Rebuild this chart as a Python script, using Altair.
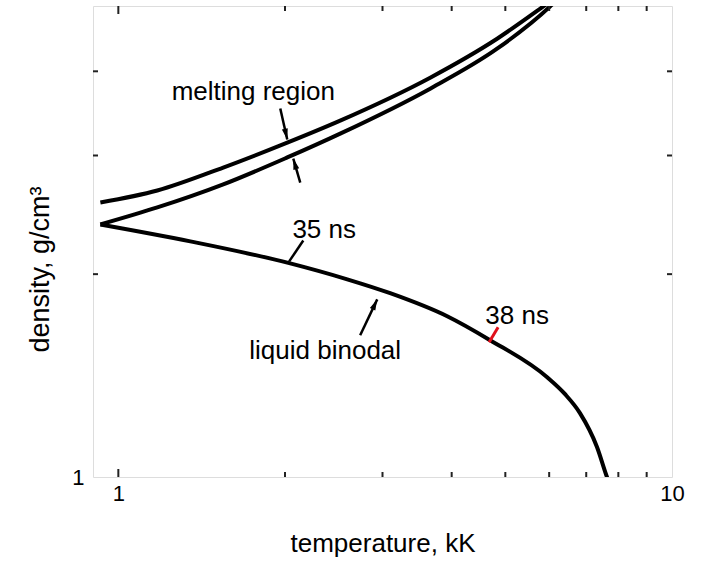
import altair as alt
import pandas as pd

# ---- data ----
binodal_T = [0.928, 1.349, 2.044, 2.591, 3.097, 3.926, 4.693, 5.95, 6.41, 6.82, 7.32, 7.63, 7.70]
binodal_rho = [2.370, 2.237, 2.075, 1.965, 1.874, 1.732, 1.596, 1.406, 1.327, 1.244, 1.108, 1.0, 0.98]

melt_upper_T = [0.928, 1.176, 1.547, 2.019, 2.516, 3.658, 4.832, 5.85, 6.15]
melt_upper_rho = [2.555, 2.662, 2.879, 3.135, 3.380, 3.914, 4.471, 4.99, 5.14]

melt_lower_T = [0.928, 1.176, 1.547, 2.019, 2.516, 3.658, 4.832, 6.02, 6.225]
melt_lower_rho = [2.370, 2.512, 2.718, 2.980, 3.233, 3.770, 4.321, 4.99, 5.125]

x_major_ticks = [1, 10]
x_minor_ticks = [2, 3, 4, 5, 6, 7, 8, 9]
y_ticks = [2, 3, 4]

labels_text = ["melting region", "35 ns", "liquid binodal", "38 ns"]
labels_T = [1.753, 2.354, 2.364, 5.251]
labels_rho = [3.732, 2.322, 1.537, 1.732]

arrow_T0 = [1.961, 2.131, 2.734]
arrow_rho0 = [3.522, 2.735, 1.623]
arrow_T1 = [2.019, 2.070, 2.935]
arrow_rho1 = [3.168, 2.969, 1.835]
arrow_angle = [167, 344, 25]

pointer_T0 = [2.158]
pointer_rho0 = [2.244]
pointer_T1 = [2.035]
pointer_rho1 = [2.089]

red_T0 = [4.852]
red_rho0 = [1.668]
red_T1 = [4.674]
red_rho1 = [1.585]

# ---- tables ----
curves = pd.concat([
    pd.DataFrame({"T": binodal_T, "rho": binodal_rho, "curve": "binodal"}),
    pd.DataFrame({"T": melt_upper_T, "rho": melt_upper_rho, "curve": "melt_upper"}),
    pd.DataFrame({"T": melt_lower_T, "rho": melt_lower_rho, "curve": "melt_lower"}),
], ignore_index=True)

labels = pd.DataFrame({"text": labels_text, "T": labels_T, "rho": labels_rho})
arrows = pd.DataFrame({"T0": arrow_T0, "rho0": arrow_rho0, "T1": arrow_T1,
                       "rho1": arrow_rho1, "angle": arrow_angle})
pointer = pd.DataFrame({"T0": pointer_T0, "rho0": pointer_rho0, "T1": pointer_T1, "rho1": pointer_rho1})
red = pd.DataFrame({"T0": red_T0, "rho0": red_rho0, "T1": red_T1, "rho1": red_rho1})

W, H = 579, 471
FONT = "Liberation Sans"

xscale = alt.Scale(type="log", domain=[0.9, 10], nice=False)
yscale = alt.Scale(type="log", domain=[1, 5], nice=False)

x_axis = alt.Axis(values=[1, 10], format="~g", tickSize=0, domain=False, grid=False,
                  labelFontSize=22, labelPadding=6, labelFlush=False, labelColor="#000",
                  title="temperature, kK", titleFontSize=26, titleFontWeight="normal",
                  titleColor="#000", titleY=66, titleBaseline="middle")
y_axis = alt.Axis(values=[1], format="~g", tickSize=0, domain=False, grid=False,
                  labelFontSize=22, labelPadding=9, labelColor="#000", labelFlush=False,
                  title="density, g/cm³", titleFontSize=27, titleFontWeight="normal",
                  titleColor="#000", titleX=-53, titleY=263, titleAngle=270,
                  titleAlign="center", titleBaseline="middle")

lines = alt.Chart(curves).mark_line(color="black", strokeWidth=4, clip=True,
                                    interpolate="monotone", strokeCap="butt").encode(
    x=alt.X("T:Q", scale=xscale, axis=x_axis),
    y=alt.Y("rho:Q", scale=yscale, axis=y_axis),
    detail="curve:N",
)

shafts = alt.Chart(arrows).mark_rule(color="black", strokeWidth=2.5).encode(
    x=alt.X("T0:Q", scale=xscale), y=alt.Y("rho0:Q", scale=yscale),
    x2="T1:Q", y2="rho1:Q")

heads = alt.Chart(arrows).mark_point(
    shape="M0,0L0.6,2.2L-0.6,2.2Z", filled=True, color="black", opacity=1, size=100
).encode(
    x=alt.X("T1:Q", scale=xscale), y=alt.Y("rho1:Q", scale=yscale),
    angle=alt.Angle("angle:Q", scale=None))

pointer_line = alt.Chart(pointer).mark_rule(color="black", strokeWidth=2.5).encode(
    x=alt.X("T0:Q", scale=xscale), y=alt.Y("rho0:Q", scale=yscale),
    x2="T1:Q", y2="rho1:Q")

red_line = alt.Chart(red).mark_rule(color="#e0101c", strokeWidth=3).encode(
    x=alt.X("T0:Q", scale=xscale), y=alt.Y("rho0:Q", scale=yscale),
    x2="T1:Q", y2="rho1:Q")

texts = alt.Chart(labels).mark_text(fontSize=26, font=FONT, color="black",
                                    align="center", baseline="middle").encode(
    x=alt.X("T:Q", scale=xscale), y=alt.Y("rho:Q", scale=yscale), text="text:N")

xmaj = pd.DataFrame({"T": x_major_ticks[:1]})
xmin = pd.DataFrame({"T": x_minor_ticks})
yt = pd.DataFrame({"rho": y_ticks})
TICK = "#222"

tick_layers = [
    alt.Chart(xmaj).mark_rule(color=TICK, strokeWidth=2).encode(
        x=alt.X("T:Q", scale=xscale), y=alt.value(H), y2=alt.value(H - 8)),
    alt.Chart(xmaj).mark_rule(color=TICK, strokeWidth=2).encode(
        x=alt.X("T:Q", scale=xscale), y=alt.value(0), y2=alt.value(8)),
    alt.Chart(xmin).mark_rule(color=TICK, strokeWidth=2).encode(
        x=alt.X("T:Q", scale=xscale), y=alt.value(H), y2=alt.value(H - 5)),
    alt.Chart(xmin).mark_rule(color=TICK, strokeWidth=2).encode(
        x=alt.X("T:Q", scale=xscale), y=alt.value(0), y2=alt.value(5)),
    alt.Chart(yt).mark_rule(color=TICK, strokeWidth=2).encode(
        y=alt.Y("rho:Q", scale=yscale), x=alt.value(0), x2=alt.value(5)),
    alt.Chart(yt).mark_rule(color=TICK, strokeWidth=2).encode(
        y=alt.Y("rho:Q", scale=yscale), x=alt.value(W), x2=alt.value(W - 5)),
]

chart = alt.layer(lines, *tick_layers, shafts, heads, pointer_line, red_line, texts).properties(
    width=W, height=H,
    autosize=alt.AutoSizeParams(type="none"),
    padding={"left": 93, "top": 6, "right": 29, "bottom": 88},
).configure_view(
    stroke="#333", strokeWidth=2
).configure_axis(
    labelFont=FONT, titleFont=FONT
).configure(background="white")

chart.save("out.html", embed_options={"renderer": "svg", "actions": False})
